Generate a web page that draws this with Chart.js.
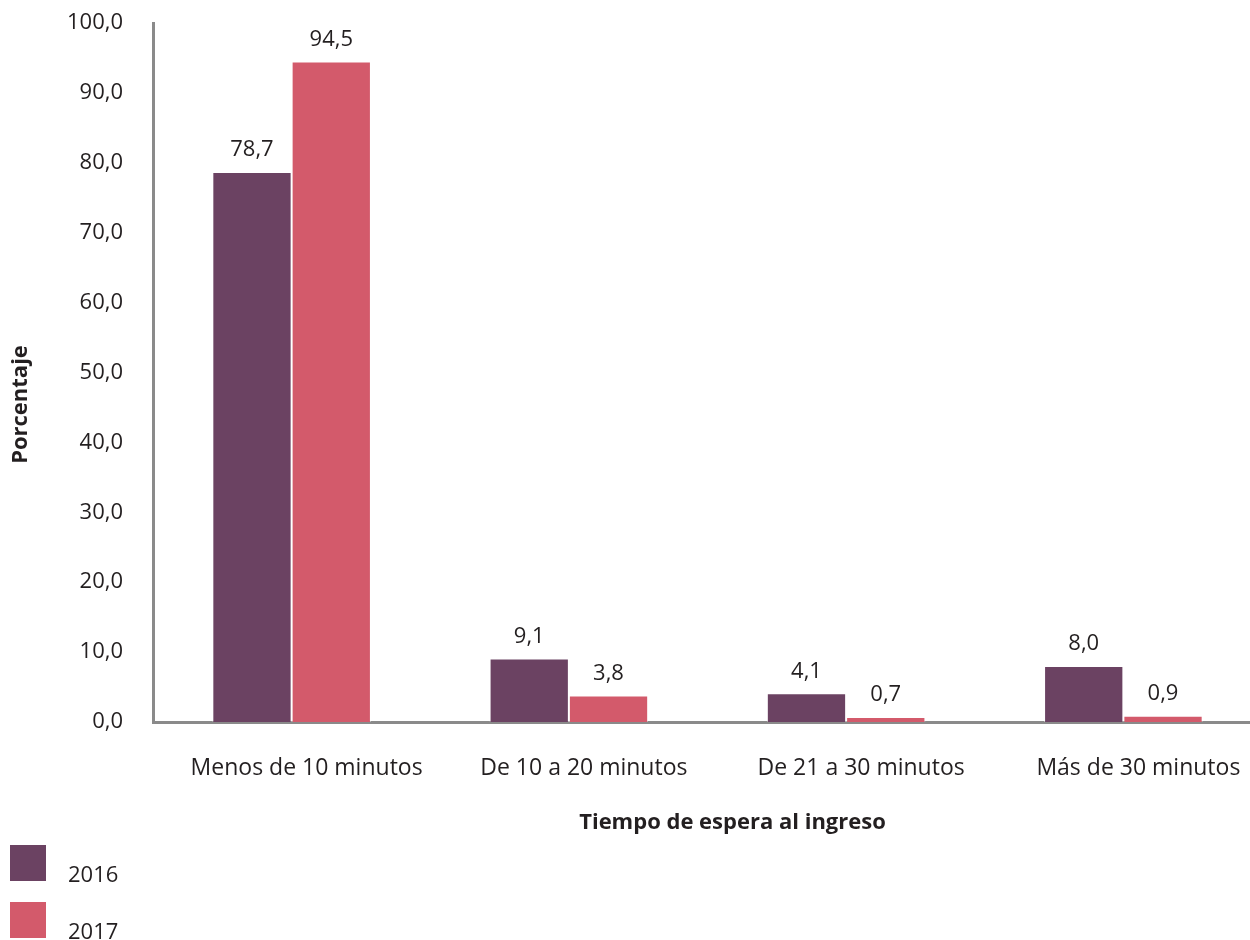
<!DOCTYPE html>
<html>
<head>
<meta charset="utf-8">
<script src="https://cdn.jsdelivr.net/npm/chart.js@4.4.1/dist/chart.umd.min.js"></script>
<style>
html,body{margin:0;padding:0;background:#fff;overflow:hidden;width:1250px;height:940px;}
#wrap{position:relative;width:1262px;height:940px;}
#legend{position:absolute;left:10px;top:845px;font-family:"Open Sans",sans-serif;font-size:22px;color:#231f20;}
.li{position:relative;height:57px;}
.sw{position:absolute;left:0;top:0;width:36px;height:36px;}
.lt{position:absolute;left:58px;top:13px;line-height:30px;}
</style>
</head>
<body>
<div id="wrap">
<canvas id="c" width="1262" height="940"></canvas>
<div id="legend"></div>
</div>
<script>
const categories = ["Menos de 10 minutos", "De 10 a 20 minutos", "De 21 a 30 minutos", "Más de 30 minutos"];
const seriesNames = ["2016", "2017"];
const values2016 = [78.7, 9.1, 4.1, 8.0];
const values2017 = [94.5, 3.8, 0.7, 0.9];
const colors = ["#6b4262", "#d35a6b"];
const yTicks = [0, 10, 20, 30, 40, 50, 60, 70, 80, 90, 100];
const xTitle = "Tiempo de espera al ingreso";
const yTitle = "Porcentaje";

const FONT = '"Open Sans", sans-serif';
const TXT = '#231f20';
const fmt = v => v.toFixed(1).replace('.', ',');

const valueLabels = {
  id: 'valueLabels',
  afterDatasetsDraw(chart) {
    const ctx = chart.ctx;
    ctx.save();
    ctx.font = '22px ' + FONT;
    ctx.fillStyle = TXT;
    ctx.textAlign = 'center';
    ctx.textBaseline = 'middle';
    chart.data.datasets.forEach((ds, i) => {
      const meta = chart.getDatasetMeta(i);
      meta.data.forEach((bar, j) => {
        ctx.fillText(fmt(ds.data[j]), bar.x, bar.y - 22);
      });
    });
    ctx.restore();
  }
};

const axisTitles = {
  id: 'axisTitles',
  afterDraw(chart) {
    const ctx = chart.ctx;
    const ca = chart.chartArea;
    ctx.save();
    ctx.font = 'bold 22px ' + FONT;
    ctx.fillStyle = TXT;
    ctx.textAlign = 'center';
    ctx.textBaseline = 'middle';
    ctx.fillText(xTitle, (ca.left + ca.right) / 2 + 25, ca.bottom + 101);
    ctx.translate(21, (ca.top + ca.bottom) / 2 + 32);
    ctx.rotate(-Math.PI / 2);
    ctx.fillText(yTitle, 0, 0);
    ctx.restore();
  }
};

const chart = new Chart(document.getElementById('c'), {
  type: 'bar',
  data: {
    labels: categories,
    datasets: [
      { label: seriesNames[0], data: values2016, backgroundColor: colors[0], borderColor: 'rgba(255,255,255,0.5)', borderWidth: 1 },
      { label: seriesNames[1], data: values2017, backgroundColor: colors[1], borderColor: 'rgba(255,255,255,0.5)', borderWidth: 1 }
    ]
  },
  options: {
    responsive: false,
    animation: false,
    layout: { padding: { top: 23, bottom: 103, left: 0, right: 0 } },
    datasets: { bar: { categoryPercentage: 0.572, barPercentage: 1 } },
    plugins: {
      legend: { display: false },
      tooltip: { enabled: false }
    },
    scales: {
      x: {
        grid: { display: false, drawTicks: false },
        border: { display: true, color: '#8a8a8a', width: 3 },
        ticks: { color: TXT, font: { family: FONT, size: 23 }, padding: 33, maxRotation: 0, labelOffset: 15 },
        afterFit(s) { s.height = 115; }
      },
      y: {
        min: 0, max: 100,
        afterBuildTicks(s) { s.ticks = yTicks.map(v => ({ value: v })); },
        grid: { display: false, drawTicks: false },
        border: { display: true, color: '#8a8a8a', width: 3 },
        ticks: { color: TXT, font: { family: FONT, size: 22 }, padding: 30, callback: v => fmt(v) },
        afterFit(s) { s.width = 153; s.paddingTop = 0; s.paddingBottom = 0; }
      }
    }
  },
  plugins: [valueLabels, axisTitles]
});

const lg = document.getElementById('legend');
chart.data.datasets.forEach(ds => {
  const item = document.createElement('div');
  item.className = 'li';
  const sw = document.createElement('div');
  sw.className = 'sw';
  sw.style.background = ds.backgroundColor;
  const t = document.createElement('div');
  t.className = 'lt';
  t.textContent = ds.label;
  item.appendChild(sw); item.appendChild(t);
  lg.appendChild(item);
});
</script>
</body>
</html>
